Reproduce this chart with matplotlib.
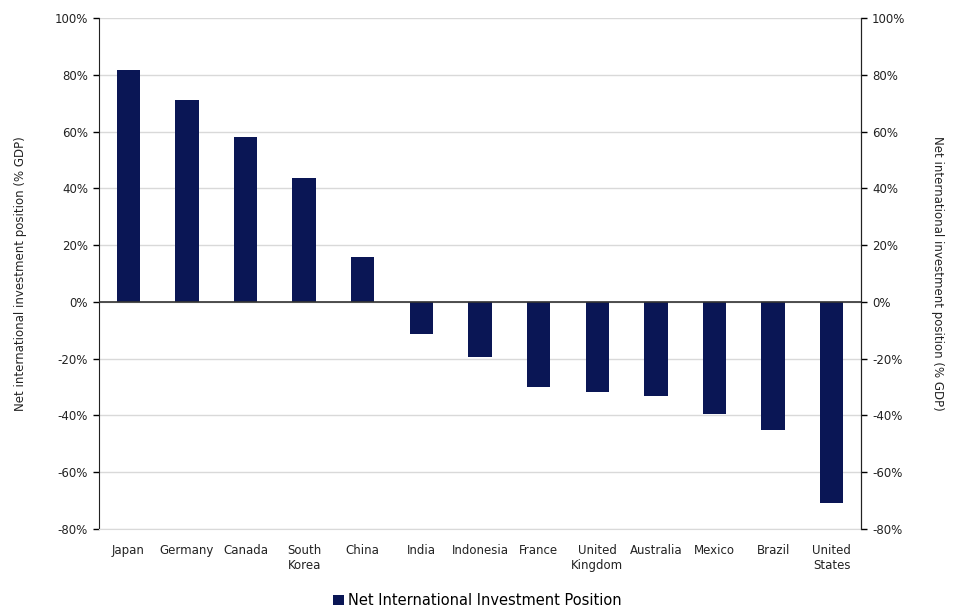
import matplotlib.pyplot as plt
import numpy as np

countries = ['Japan', 'Germany', 'Canada', 'South\nKorea', 'China', 'India', 'Indonesia',
             'France', 'United\nKingdom', 'Australia', 'Mexico', 'Brazil', 'United\nStates']
niip = [81.7, 71.1, 58.1, 43.7, 15.8, -11.3, -19.4, -29.9, -31.7, -33.1, -39.4, -45.1, -70.8]

bar_color = '#0a1655'
yticks = [-80, -60, -40, -20, 0, 20, 40, 60, 80, 100]
ylabel = 'Net international investment position (% GDP)'

fig = plt.figure(figsize=(9.55, 6.12), dpi=100)
ax = fig.add_axes([99/955, 1-529/612, (861-99)/955, (529-18)/612])

x = np.arange(len(countries))
ax.bar(x, niip, width=0.4, color=bar_color, label='Net International Investment Position', zorder=3)

ax.set_xlim(-0.5, len(countries) - 0.5)
ax.set_ylim(-80, 100)
ax.set_yticks(yticks)
ax.set_yticklabels([f'{v}%' for v in yticks], fontsize=8.5, color='#222222')
ax.set_xticks(x)
ax.set_xticklabels(countries, fontsize=8.5, color='#222222')
ax.tick_params(axis='x', length=0, pad=11)
ax.tick_params(axis='y', direction='out', length=4, width=1, pad=4)
ax.grid(axis='y', color='#d9d9d9', linewidth=1, zorder=0)
ax.axhline(0, color='#333333', linewidth=1.2, zorder=4)
ax.spines['top'].set_visible(False)
ax.spines['bottom'].set_color('#d9d9d9')
ax.spines['left'].set_color('#222222')
ax.spines['right'].set_color('#222222')
ax.set_ylabel(ylabel, fontsize=8.5, color='#222222', labelpad=20)

ax2 = ax.twinx()
ax2.set_ylim(-80, 100)
ax2.set_yticks(yticks)
ax2.set_yticklabels([f'{v}%' for v in yticks], fontsize=8.5, color='#222222')
ax2.tick_params(axis='y', direction='out', length=4, width=1, pad=4)
for s in ['top', 'bottom', 'left']:
    ax2.spines[s].set_visible(False)
ax2.spines['right'].set_color('#222222')
ax2.set_ylabel(ylabel, fontsize=8.5, color='#222222', rotation=270, labelpad=28)

fig.legend(loc='lower center', bbox_to_anchor=(0.5, -0.015), frameon=False, fontsize=10.5,
           handlelength=0.7, handleheight=0.7, handletextpad=0.3)

plt.savefig('out.png', dpi=100)
